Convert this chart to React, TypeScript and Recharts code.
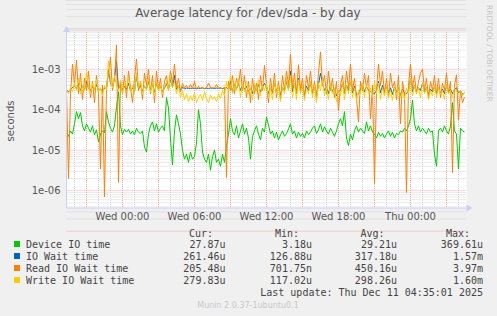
import { LineChart, Line, XAxis, YAxis, CartesianGrid } from "recharts";

// time axis: hours relative to Wed 00:00, one sample every 10 minutes
const startHour = -4.667;
const stepHours = 1 / 6;

// latencies in microseconds
const deviceIoUs = [
  28, 22, 30, 25, 45, 90, 60, 85, 40, 30,
  45, 35, 28, 40, 24, 32, 16, 25, 30, 27,
  90, 50, 35, 28, 40, 120, 280, 40, 24, 33,
  28, 33, 25, 30, 24, 35, 28, 26, 30, 12,
  9, 25, 40, 50, 30, 45, 28, 35, 40, 30,
  200, 110, 19, 4.3, 30, 75, 45, 25, 10, 6,
  8, 5, 9, 6, 7, 15, 100, 45, 9, 6,
  5, 8, 3.2, 7, 10, 5, 6, 4, 8, 5,
  13, 25, 60, 30, 24, 40, 20, 30, 45, 25,
  35, 20, 6, 22, 30, 40, 25, 18, 35, 28,
  65, 42, 25, 30, 20, 28, 18, 24, 30, 22,
  26, 33, 45, 25, 30, 20, 28, 22, 26, 20,
  30, 24, 28, 35, 40, 26, 32, 45, 28, 38,
  30, 25, 35, 28, 22, 30, 45, 60, 40, 90,
  20, 13, 25, 18, 30, 40, 28, 35, 30, 26,
  50, 30, 40, 28, 25, 20, 28, 22, 26, 20,
  25, 30, 22, 28, 20, 26, 24, 30, 28, 35,
  30, 40, 60, 175, 45, 30, 40, 28, 35, 30,
  25, 35, 28, 30, 8, 4, 30, 35, 28, 40,
  30, 25, 40, 150, 30, 25, 3.5, 35, 30, 28,
];

const ioWaitUs = [
  300, 280, 320, 350, 400, 330, 450, 300, 380, 320,
  500, 340, 300, 380, 320, 420, 300, 330, 280, 350,
  330, 1000, 450, 380, 600, 1570, 330, 420, 300, 380,
  320, 450, 300, 350, 280, 700, 330, 400, 290, 380,
  330, 500, 300, 420, 270, 450, 320, 380, 280, 340,
  450, 320, 600, 360, 700, 320, 400, 300, 360, 330,
  345, 335, 340, 338, 342, 335, 340, 338, 345, 336,
  340, 338, 342, 340, 336, 344, 338, 342, 335, 340,
  350, 320, 500, 280, 420, 330, 450, 300, 400, 320,
  380, 280, 340, 250, 400, 300, 420, 280, 360, 450,
  380, 250, 350, 260, 450, 280, 380, 230, 350, 300,
  500, 320, 900, 280, 450, 250, 600, 300, 400, 230,
  380, 300, 450, 250, 380, 220, 420, 800, 450, 300,
  350, 250, 420, 280, 330, 220, 280, 300, 450, 250,
  400, 300, 550, 260, 380, 230, 250, 320, 400, 280,
  380, 300, 280, 260, 250, 300, 500, 260, 400, 280,
  380, 260, 350, 240, 360, 270, 380, 220, 320, 250,
  250, 300, 600, 280, 400, 270, 350, 300, 450, 280,
  350, 240, 320, 280, 380, 250, 350, 260, 320, 250,
  400, 270, 320, 250, 320, 350, 260, 300, 240, 261,
];

const readWaitUs = [
  300, 2, 250, 1350, 400, 1700, 250, 800, 180, 600,
  300, 900, 200, 500, 150, 700, 250, 3.4, 400, 0.7,
  350, 800, 2000, 300, 600, 3970, 1.6, 500, 250, 700,
  200, 900, 350, 150, 600, 1800, 300, 500, 180, 800,
  400, 1000, 250, 700, 150, 900, 300, 600, 200, 500,
  700, 300, 900, 450, 1350, 350, 600, 280, 450, 350,
  400, 330, 420, 340, 500, 320, 380, 340, 360, 330,
  350, 460, 355, 345, 350, 420, 340, 350, 330, 360,
  2.1, 500, 300, 700, 250, 600, 400, 1000, 300, 700,
  200, 500, 150, 600, 250, 450, 180, 700, 300, 1250,
  400, 150, 600, 250, 800, 200, 500, 180, 700, 300,
  900, 400, 2400, 350, 800, 250, 1300, 300, 600, 200,
  700, 350, 900, 250, 500, 200, 800, 2700, 400, 700,
  250, 900, 300, 600, 200, 500, 95, 400, 700, 250,
  900, 350, 1350, 300, 600, 200, 50, 500, 300, 800,
  350, 700, 60, 400, 1.5, 300, 1350, 400, 900, 250,
  600, 200, 800, 350, 500, 180, 700, 45, 500, 250,
  0.9, 400, 1350, 350, 700, 250, 500, 800, 1000, 300,
  600, 200, 500, 300, 700, 250, 600, 200, 450, 300,
  800, 250, 500, 2.8, 400, 730, 55, 300, 150, 205,
];

const writeWaitUs = [
  300, 250, 350, 280, 450, 300, 600, 250, 400, 300,
  870, 350, 250, 450, 300, 550, 280, 350, 220, 400,
  300, 1600, 500, 350, 700, 400, 300, 550, 250, 450,
  350, 600, 280, 400, 250, 800, 350, 500, 250, 400,
  300, 600, 280, 450, 220, 500, 300, 400, 250, 350,
  500, 300, 700, 350, 500, 250, 400, 200, 300, 180,
  250, 160, 220, 170, 260, 150, 200, 240, 170, 280,
  190, 150, 230, 180, 210, 160, 250, 190, 300, 220,
  500, 300, 700, 250, 450, 300, 600, 200, 400, 280,
  500, 250, 350, 180, 450, 300, 550, 220, 400, 300,
  450, 200, 350, 180, 500, 250, 400, 160, 350, 250,
  600, 300, 700, 200, 450, 180, 550, 250, 400, 170,
  350, 250, 500, 200, 400, 150, 450, 300, 550, 220,
  350, 180, 450, 250, 350, 160, 300, 220, 500, 180,
  400, 250, 550, 200, 350, 170, 300, 250, 450, 200,
  400, 250, 350, 200, 500, 250, 450, 180, 350, 220,
  400, 200, 300, 170, 350, 230, 400, 200, 300, 180,
  350, 250, 600, 220, 400, 250, 350, 200, 450, 250,
  350, 180, 300, 220, 400, 200, 350, 250, 300, 180,
  400, 250, 300, 200, 350, 280, 250, 300, 220, 280,
];

const xTicks = [0, 6, 12, 18, 24];
const xTickLabels = ["Wed 00:00", "Wed 06:00", "Wed 12:00", "Wed 18:00", "Thu 00:00"];
const yTicks = [1e-6, 1e-5, 1e-4, 1e-3];
const yTickLabels = ["1e-06", "1e-05", "1e-04", "1e-03"];

const legendNames = ["Device IO time", "IO Wait time", "Read IO Wait time", "Write IO Wait time"];
const legendColors = ["#00cc00", "#0066b3", "#ff8000", "#ffcc00"];
const curValues = ["27.87u", "261.46u", "205.48u", "279.83u"];
const minValues = ["3.18u", "126.88u", "701.75n", "117.02u"];
const avgValues = ["29.21u", "317.18u", "450.16u", "298.26u"];
const maxValues = ["369.61u", "1.57m", "3.97m", "1.60m"];

const xDomain: [number, number] = [-4.667, 28.667];
const yDomain: [number, number] = [3.73e-7, 8.35e-3];

const data = deviceIoUs.map((v, i) => ({
  t: startHour + i * stepHours,
  device: v * 1e-6,
  iowait: ioWaitUs[i] * 1e-6,
  read: readWaitUs[i] * 1e-6,
  write: writeWaitUs[i] * 1e-6,
}));

// log grid: decades in red, 2..9 in grey
const majorY: number[] = [];
const minorY: number[] = [];
for (let d = -7; d <= -2; d++) {
  majorY.push(Math.pow(10, d));
  for (let m = 2; m <= 9; m++) minorY.push(m * Math.pow(10, d));
}
const majorX: number[] = [];
const minorX: number[] = [];
for (let h = -4; h <= 28; h++) {
  if (h % 3 === 0) majorX.push(h);
  else minorX.push(h);
}

const keys = ["device", "iowait", "read", "write"];
const axisBlue = "#c8d0f4";
const textGrey = "#555";

export default function App() {
  const cols = [
    { right: 225.5, head: "Cur:", headRight: 213, vals: curValues },
    { right: 312, head: "Min:", headRight: 299, vals: minValues },
    { right: 397, head: "Avg:", headRight: 384.5, vals: avgValues },
    { right: 483, head: "Max:", headRight: 470, vals: maxValues },
  ];

  return (
    <div style={{ position: "relative", width: 497, height: 316, background: "#f0f0f0" }}>
      <style>{"body{margin:0}"}</style>
      <LineChart
        width={497}
        height={316}
        data={data}
        margin={{ top: 32, right: 30.5, bottom: 88, left: 0 }}
      >
        <CartesianGrid
          fill="#ffffff"
          stroke="#d4d4d4"
          strokeDasharray="1 1"
          horizontalValues={minorY}
          verticalValues={minorX}
        />
        <CartesianGrid
          stroke="#f2a6a6"
          strokeDasharray="1 1"
          horizontalValues={majorY}
          verticalValues={majorX}
        />
        <XAxis
          dataKey="t"
          type="number"
          domain={xDomain}
          allowDataOverflow
          ticks={xTicks}
          interval={0}
          height={20}
          tickLine={false}
          tickSize={3}
          tickMargin={2}
          axisLine={{ stroke: axisBlue }}
          tick={{ fill: textGrey, fontSize: 10, fontFamily: "DejaVu Sans" }}
          tickFormatter={(v: number) => xTickLabels[xTicks.indexOf(v)] ?? ""}
        />
        <YAxis
          type="number"
          scale="log"
          domain={yDomain}
          allowDataOverflow
          ticks={yTicks}
          interval={0}
          width={66.5}
          tickLine={false}
          tickSize={4}
          tickMargin={2}
          axisLine={{ stroke: axisBlue }}
          tick={{ fill: textGrey, fontSize: 10, fontFamily: "DejaVu Sans" }}
          tickFormatter={(v: number) => yTickLabels[yTicks.indexOf(v)] ?? ""}
        />
        {keys.map((k, i) => (
          <Line
            key={k}
            dataKey={k}
            type="linear"
            stroke={legendColors[i]}
            strokeWidth={1}
            dot={false}
            activeDot={false}
            isAnimationActive={false}
          />
        ))}
      </LineChart>

      <svg
        width={497}
        height={316}
        style={{ position: "absolute", left: 0, top: 0, pointerEvents: "none" }}
      >
        <text x={248} y={17} textAnchor="middle" fontFamily="DejaVu Sans" fontSize={12} fill={textGrey}>
          Average latency for /dev/sda - by day
        </text>
        <text
          transform="translate(14,121) rotate(-90)"
          textAnchor="middle"
          fontFamily="DejaVu Sans"
          fontSize={10}
          fill={textGrey}
        >
          seconds
        </text>
        <text
          transform="translate(487,5) rotate(90)"
          textAnchor="start"
          fontFamily="DejaVu Sans"
          fontSize={7.5}
          fill="#c4c4c4"
        >
          RRDTOOL / TOBI OETIKER
        </text>

        <polygon points="63,32 70,32 66.5,26" fill={axisBlue} />
        <polygon points="466.5,204.5 466.5,211.5 472.5,208" fill={axisBlue} />

        <g fontFamily="DejaVu Sans Mono" fontSize={10} fill="#444">
          {cols.map((c) => (
            <text key={c.head} x={c.headRight} y={236.5} textAnchor="end">
              {c.head}
            </text>
          ))}
          {legendNames.map((name, r) => (
            <g key={name}>
              <rect x={14} y={241 + r * 12} width={6} height={6} fill={legendColors[r]} />
              <text x={26} y={248 + r * 12} xmlSpace="preserve">
                {name}
              </text>
              {cols.map((c) => (
                <text key={c.head} x={c.right} y={248 + r * 12} textAnchor="end">
                  {c.vals[r]}
                </text>
              ))}
            </g>
          ))}
          <text x={483} y={296} textAnchor="end">
            Last update: Thu Dec 11 04:35:01 2025
          </text>
        </g>
        <text x={248} y={308} textAnchor="middle" fontFamily="DejaVu Sans" fontSize={8} fill="#c8c8c8">
          Munin 2.0.37-1ubuntu0.1
        </text>
      </svg>
    </div>
  );
}
